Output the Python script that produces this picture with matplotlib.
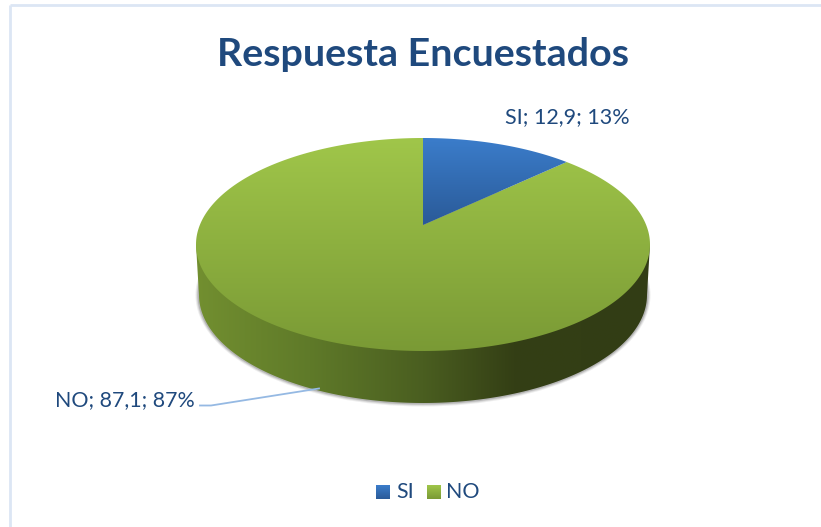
#pie 3d respuesta encuestados

import numpy as np
import matplotlib
matplotlib.use('Agg')
import matplotlib.pyplot as plt
from matplotlib.colors import LinearSegmentedColormap
from matplotlib.patches import Polygon, Ellipse

title = 'Respuesta Encuestados'
categories = ['SI', 'NO']
values = [12.9, 87.1]
percents = ['13%', '87%']

text_color = '#1f497d'
font = ['Lato', 'DejaVu Sans']

# pie geometry in pixels
cx, cy, rx, ry = 423, 244.5, 227, 106.5
apex_shift = 0.183
bot_cx, bot_cy, bot_rx, bot_ry = 423, 295, 224, 108

fig = plt.figure(figsize=(8.21, 5.27), dpi=100)
ax = fig.add_axes([0, 0, 1, 1])
ax.axis('off')


def rim(theta):
    # circle seen in perspective: centre lands above the middle of the ellipse
    x, y = np.sin(theta), np.cos(theta)
    d = 1 + apex_shift * y
    px = x * np.sqrt(1 - apex_shift ** 2) / d
    py = (y + apex_shift) / d
    return np.column_stack([cx + rx * px, cy - ry * py])


def gradient(stops, extent, clip=None, horizontal=False):
    cmap = LinearSegmentedColormap.from_list('g', stops)
    ramp = np.linspace(0, 1, 256)
    ramp = ramp[None, :] if horizontal else ramp[:, None]
    im = ax.imshow(ramp, cmap=cmap, extent=extent, aspect='auto', origin='upper',
                   interpolation='bilinear', zorder=2)
    if clip is not None:
        patch = Polygon(clip, closed=True, transform=ax.transData, fc='none', ec='none')
        ax.add_patch(patch)
        im.set_clip_path(patch)
    return im


blue_stops = ['#3b7dcb', '#2a5a98']
green_stops = ['#a0c64a', '#7a9a35']
side_stops = [(0, '#728f30'), (0.25, '#5f7a29'), (0.5, '#4a5e20'), (0.7, '#343f15'), (1, '#323d15')]

# frame lines
ax.plot([10, 10], [527, 5], color='#dce6f4', lw=2, zorder=1, solid_capstyle='butt')
ax.plot([10, 821], [5, 5], color='#dce6f4', lw=2, zorder=1, solid_capstyle='butt')

# soft shadow under the side
for grow, alpha in [(3.5, 0.10), (2.5, 0.15), (1.5, 0.25)]:
    ax.add_patch(Ellipse((bot_cx, bot_cy), 2 * (bot_rx + grow), 2 * (bot_ry + grow),
                         fc='#555555', ec='none', alpha=alpha, zorder=1.5))

# side of the pie
t = np.linspace(np.pi, 0, 200)
lower = np.column_stack([bot_cx + bot_rx * np.cos(t), bot_cy + bot_ry * np.sin(t)])
upper = np.array([[cx + rx, cy], [cx - rx, cy]])
gradient(side_stops, (196, 650, 410, 240), clip=np.vstack([lower, upper]), horizontal=True)

# top slices, clockwise from 12 o'clock
fracs = np.array(values) / sum(values)
edges = 2 * np.pi * np.concatenate([[0], np.cumsum(fracs)])
apex = [cx, cy - ry * apex_shift]

slice_stops = [blue_stops, green_stops]
for i in [1, 0]:
    arc = rim(np.linspace(edges[i], edges[i + 1], 300))
    outline = np.vstack([[apex], arc])
    bottom = cy + ry if i == 1 else apex[1]
    gradient(slice_stops[i], (cx - rx - 1, cx + rx + 1, bottom, cy - ry), clip=outline)

# title and labels
ax.text(423, 55, title, fontsize=28.4, fontweight='bold', color=text_color, family=font,
        ha='center', va='center')
ax.text(505, 117.5, '%s; %s; %s' % (categories[0], str(values[0]).replace('.', ','), percents[0]),
        fontsize=15.5, color=text_color, family=font, ha='left', va='center')
ax.text(195, 400.5, '%s; %s; %s' % (categories[1], str(values[1]).replace('.', ','), percents[1]),
        fontsize=15.4, color=text_color, family=font, ha='right', va='center')

# leader line for NO
ax.plot([200, 211, 319], [405.5, 405.5, 388.5], color='#95b9e3', lw=1.3, zorder=3)

# legend
legend_x = [(376, 396), (427, 446)]
for i, (sx, tx) in enumerate(legend_x):
    gradient(slice_stops[i], (sx, sx + 14, 499, 485))
    ax.text(tx, 492.5, categories[i], fontsize=15.4, color=text_color, family=font,
            ha='left', va='center')

ax.set_xlim(0, 821)
ax.set_ylim(527, 0)

fig.savefig('out.png', dpi=100, facecolor='white')
